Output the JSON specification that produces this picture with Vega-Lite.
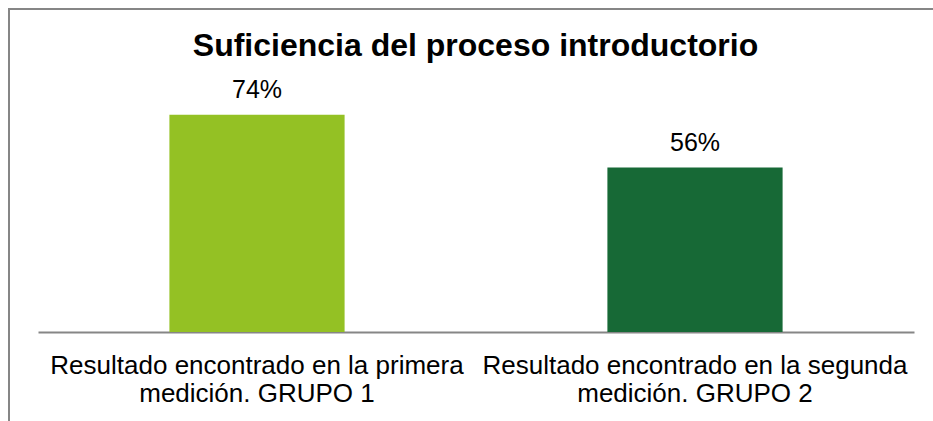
{
  "$schema": "https://vega.github.io/schema/vega-lite/v6.json",
  "autosize": {"type": "none"},
  "padding": {"left": 9, "top": 9, "right": 0, "bottom": 0},
  "width": 925,
  "height": 413,
  "background": "white",
  "config": {
    "view": {"stroke": "#868686", "strokeWidth": 2},
    "font": "Liberation Sans"
  },
  "title": {
    "text": "Suficiencia del proceso introductorio",
    "font": "Liberation Sans",
    "fontSize": 32,
    "fontWeight": "bold",
    "color": "#000000",
    "anchor": "middle",
    "frame": "group",
    "baseline": "alphabetic",
    "offset": 0,
    "dx": 4,
    "dy": 79
  },
  "data": {
    "values": [
      {"grupo": "Resultado encontrado en la primera medición. GRUPO 1", "valor": 0.74},
      {"grupo": "Resultado encontrado en la segunda medición. GRUPO 2", "valor": 0.56}
    ]
  },
  "encoding": {
    "x": {
      "field": "grupo",
      "type": "nominal",
      "sort": null,
      "scale": {"range": [29, 905], "paddingInner": 0.6, "paddingOuter": 0.3},
      "axis": {
        "orient": "bottom",
        "offset": -90,
        "title": null,
        "ticks": false,
        "domainColor": "#868686",
        "domainWidth": 2,
        "labelAngle": 0,
        "labelAlign": "center",
        "labelBaseline": "top",
        "labelFont": "Liberation Sans",
        "labelFontSize": 26,
        "labelColor": "#000000",
        "labelLineHeight": 28,
        "labelPadding": 20,
        "labelLimit": 1000,
        "labelOverlap": false,
        "labelBound": false,
        "labelExpr": "[substring(datum.label, 0, indexof(datum.label, ' medición')), substring(datum.label, indexof(datum.label, ' medición') + 1)]"
      }
    },
    "y": {
      "field": "valor",
      "type": "quantitative",
      "scale": {"domain": [0, 0.8], "range": [323, 88], "nice": false, "zero": true},
      "axis": null
    }
  },
  "layer": [
    {
      "mark": {"type": "bar"},
      "encoding": {
        "color": {
          "field": "grupo",
          "type": "nominal",
          "sort": null,
          "scale": {"range": ["#94C124", "#176936"]},
          "legend": null
        }
      }
    },
    {
      "mark": {
        "type": "text",
        "baseline": "alphabetic",
        "align": "center",
        "dy": -17,
        "fontSize": 25,
        "font": "Liberation Sans",
        "color": "#000000"
      },
      "encoding": {
        "text": {"field": "valor", "type": "quantitative", "format": ".0%"}
      }
    }
  ]
}
